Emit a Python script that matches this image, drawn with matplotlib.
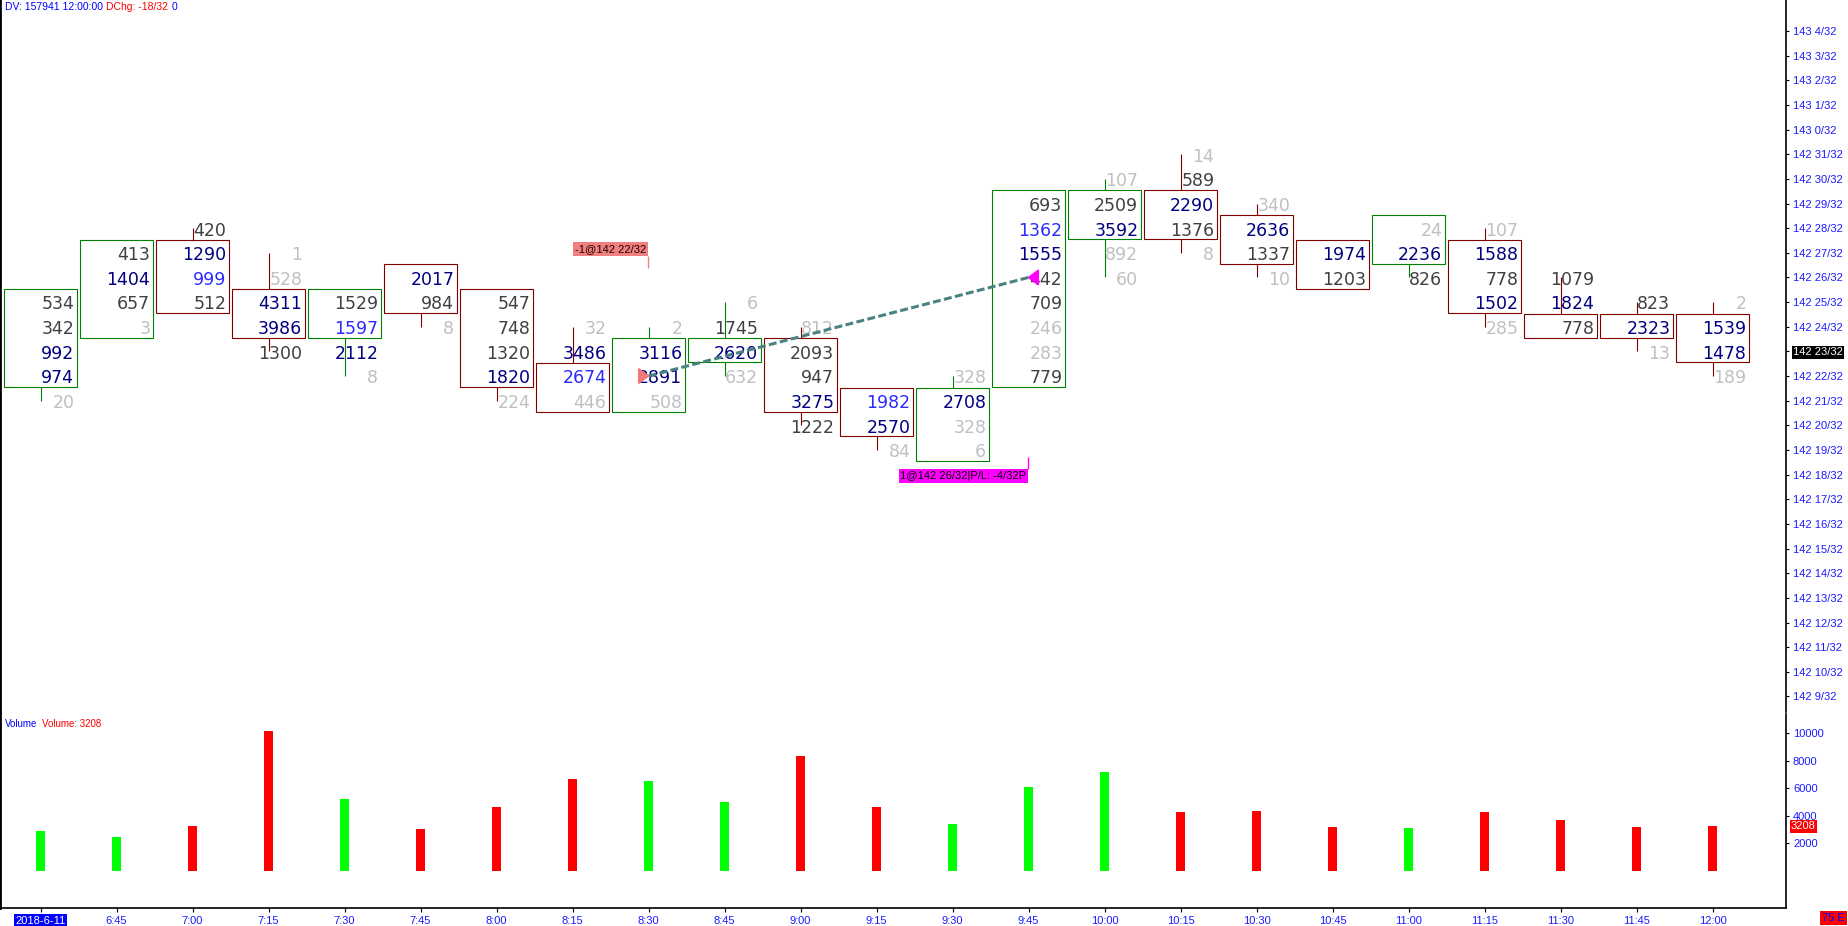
import matplotlib
matplotlib.use('Agg')
import matplotlib.pyplot as plt
from matplotlib.patches import Rectangle, Polygon

plt.rcParams['font.family'] = ['Liberation Sans', 'DejaVu Sans']

times = ['2018-6-11', '6:45', '7:00', '7:15', '7:30', '7:45', '8:00', '8:15', '8:30', '8:45',
         '9:00', '9:15', '9:30', '9:45', '10:00', '10:15', '10:30', '10:45', '11:00', '11:15',
         '11:30', '11:45', '12:00']

# prices are counted in 32nds above 142
bar_high = [25, 27, 28, 27, 25, 26, 25, 24, 24, 25, 24, 21, 22, 29, 30, 31, 29, 27, 28, 28, 26, 25, 25]
bar_low = [21, 24, 25, 23, 22, 24, 21, 21, 21, 22, 20, 19, 19, 22, 26, 27, 26, 26, 26, 24, 24, 23, 22]
box_top = [25, 27, 27, 25, 25, 26, 25, 22, 23, 23, 23, 21, 21, 29, 29, 29, 28, 27, 28, 27, 24, 24, 24]
box_bot = [22, 24, 25, 24, 24, 25, 22, 21, 21, 23, 21, 20, 19, 22, 28, 28, 27, 26, 27, 25, 24, 24, 23]
rising = [1, 1, 0, 0, 1, 0, 0, 0, 1, 1, 0, 0, 1, 1, 1, 0, 0, 0, 1, 0, 0, 0, 0]

# footprint volumes per price row, from the high row down
cells = [
    [534, 342, 992, 974, 20],
    [413, 1404, 657, 3],
    [420, 1290, 999, 512],
    [1, 528, 4311, 3986, 1300],
    [1529, 1597, 2112, 8],
    [2017, 984, 8],
    [547, 748, 1320, 1820, 224],
    [32, 3486, 2674, 446],
    [2, 3116, 2891, 508],
    [6, 1745, 2620, 632],
    [812, 2093, 947, 3275, 1222],
    [1982, 2570, 84],
    [328, 2708, 328, 6],
    [693, 1362, 1555, 442, 709, 246, 283, 779],
    [107, 2509, 3592, 892, 60],
    [14, 589, 2290, 1376, 8],
    [340, 2636, 1337, 10],
    [1974, 1203],
    [24, 2236, 826],
    [107, 1588, 778, 1502, 285],
    [1079, 1824, 778],
    [823, 2323, 13],
    [2, 1539, 1478, 189],
]
# d = dark grey, n = navy, b = blue, l = light grey
tones = ['ddnnl', 'dndl', 'dnbd', 'llnnd', 'dbnl', 'ndl', 'dddnl', 'lnbl', 'lnnl', 'ldnl',
         'lddnd', 'bnl', 'lnll', 'dbnddlld', 'ldnll', 'ldndl', 'lndl', 'nd', 'lnd', 'lndnl',
         'dnd', 'dnl', 'lnnl']

volume = [2862, 2477, 3221, 10126, 5246, 3009, 4659, 6638, 6517, 5003, 8349, 4636,
          3370, 6069, 7160, 4277, 4323, 3177, 3086, 4260, 3681, 3159, 3208]

price_ticks = list(range(9, 37))
price_labels = ['142 9/32', '142 10/32', '142 11/32', '142 12/32', '142 13/32', '142 14/32',
                '142 15/32', '142 16/32', '142 17/32', '142 18/32', '142 19/32', '142 20/32',
                '142 21/32', '142 22/32', '142 23/32', '142 24/32', '142 25/32', '142 26/32',
                '142 27/32', '142 28/32', '142 29/32', '142 30/32', '142 31/32', '143 0/32',
                '143 1/32', '143 2/32', '143 3/32', '143 4/32']
vol_ticks = [2000, 4000, 6000, 8000, 10000]

entry_bar, entry_price = 8, 22
exit_bar, exit_price = 13, 26

tone_col = {'d': '#404040', 'n': '#000080', 'b': '#2a2aff', 'l': '#c0c0c0'}
axis_blue = '#1a1aff'

W, H = 1848, 926
fig = plt.figure(figsize=(W / 100, H / 100), dpi=100)
ax = fig.add_axes([0, (H - 712) / H, 1786 / W, 712 / H])
vax = fig.add_axes([0, 18 / H, 1786 / W, 194 / H])

xlo, xhi = -0.533, 22.967
ax.set_xlim(xlo, xhi)
ax.set_ylim(8.371, 37.256)
vax.set_xlim(xlo, xhi)
vax.set_ylim(-2727, 11400)

for i in range(len(times)):
    col = '#008000' if rising[i] else '#800000'
    ax.vlines(i, bar_low[i], bar_high[i], color=col, lw=0.8, zorder=2)
    ax.add_patch(Rectangle((i - 0.476, box_bot[i] - 0.45), 0.952, box_top[i] - box_bot[i] + 0.98,
                           facecolor='white', edgecolor=col, lw=0.8, zorder=3))
    for k, v in enumerate(cells[i]):
        p = bar_high[i] - k
        ax.text(i + 0.445, p - 0.3, str(v), ha='right', va='baseline', fontsize=12.5,
                family='DejaVu Sans', color=tone_col[tones[i][k]], zorder=4)

# trade line and markers
ax.plot([entry_bar, exit_bar], [entry_price, exit_price], color='#4a8282', lw=2.2,
        ls=(0, (2.6, 1.1)), zorder=5)
ax.add_patch(Polygon([[entry_bar - 0.13, entry_price + 0.3], [entry_bar - 0.13, entry_price - 0.3],
                      [entry_bar, entry_price]], closed=True, color='#f07878', zorder=6))
ax.add_patch(Polygon([[exit_bar + 0.13, exit_price + 0.3], [exit_bar + 0.13, exit_price - 0.3],
                      [exit_bar, exit_price]], closed=True, color='#ff00ff', zorder=6))

ax.vlines(entry_bar - 0.01, 26.38, 26.87, color='#f08080', lw=1, zorder=6)
ax.text(entry_bar - 0.03, 26.95, '-1@142 22/32', ha='right', va='bottom', fontsize=8, color='#200000',
        bbox=dict(boxstyle='square,pad=0.15', fc='#f08080', ec='none'), zorder=6)
ax.vlines(exit_bar - 0.01, 18.23, 18.72, color='#ff00ff', lw=1, zorder=6)
ax.text(exit_bar - 0.03, 18.15, '1@142 26/32|P/L: -4/32P', ha='right', va='top', fontsize=8,
        color='black', bbox=dict(boxstyle='square,pad=0.15', fc='#ff00ff', ec='none'), zorder=6)

# volume panel
vcols = ['#00ff00' if r else '#ff0000' for r in rising]
vax.bar(range(len(times)), volume, width=0.13, color=vcols)

for a in (ax, vax):
    a.spines['top'].set_visible(False)
    a.spines['left'].set_linewidth(2)
    a.spines['right'].set_linewidth(1.2)
    a.yaxis.tick_right()
    a.tick_params(axis='y', direction='out', length=2.5, width=0.8, pad=2.5,
                  labelsize=8, labelcolor=axis_blue)
ax.spines['bottom'].set_visible(False)
vax.spines['bottom'].set_linewidth(1.2)

ax.set_yticks(price_ticks, labels=price_labels)
ax.tick_params(axis='x', bottom=False, labelbottom=False)
for lab in ax.get_yticklabels():
    if lab.get_text() == '142 23/32':
        lab.set_color('white')
        lab.set_bbox(dict(boxstyle='square,pad=0.12', fc='black', ec='none'))

vax.set_yticks(vol_ticks, labels=[str(v) for v in vol_ticks])
vax.set_xticks(range(len(times)), labels=times)
vax.tick_params(axis='x', direction='out', length=3, width=0.8, pad=2.5, labelsize=8,
                labelcolor=axis_blue)
first = vax.get_xticklabels()[0]
first.set_color('white')
first.set_bbox(dict(boxstyle='square,pad=0.12', fc='#0000ff', ec='none'))

vax.annotate(str(volume[-1]), xy=(1, volume[-1]), xycoords=('axes fraction', 'data'),
             xytext=(3.5, 0), textcoords='offset points', ha='left', va='center', fontsize=8,
             color='white', bbox=dict(boxstyle='square,pad=0.1', fc='#ff0000', ec='none'))

# captions
t1 = fig.text(5 / W, 1 - 7 / H, 'DV: 157941 12:00:00', color='#0000ff', fontsize=7.5, va='center')
t2 = ax.annotate('DChg: -18/32', xy=(1, 0), xycoords=t1, xytext=(2.5, 0), textcoords='offset points',
                 va='bottom', color='#ff0000', fontsize=7.5, annotation_clip=False, clip_on=False)
ax.annotate('0', xy=(1, 0), xycoords=t2, xytext=(2.5, 0), textcoords='offset points',
            va='bottom', color='#0000ff', fontsize=7.5, annotation_clip=False, clip_on=False)
t3 = fig.text(5 / W, 1 - 724 / H, 'Volume', color='#0000ff', fontsize=7, va='center')
vax.annotate('Volume: 3208', xy=(1, 0), xycoords=t3, xytext=(3, 0), textcoords='offset points',
             va='bottom', color='#ff0000', fontsize=7, annotation_clip=False, clip_on=False)
fig.text(1845 / W, (H - 918) / H, '75 E', color='#0000ff', fontsize=8, va='center', ha='right',
         bbox=dict(boxstyle='square,pad=0.2', fc='#ff0000', ec='none'))

fig.savefig('out.png', dpi=100)
